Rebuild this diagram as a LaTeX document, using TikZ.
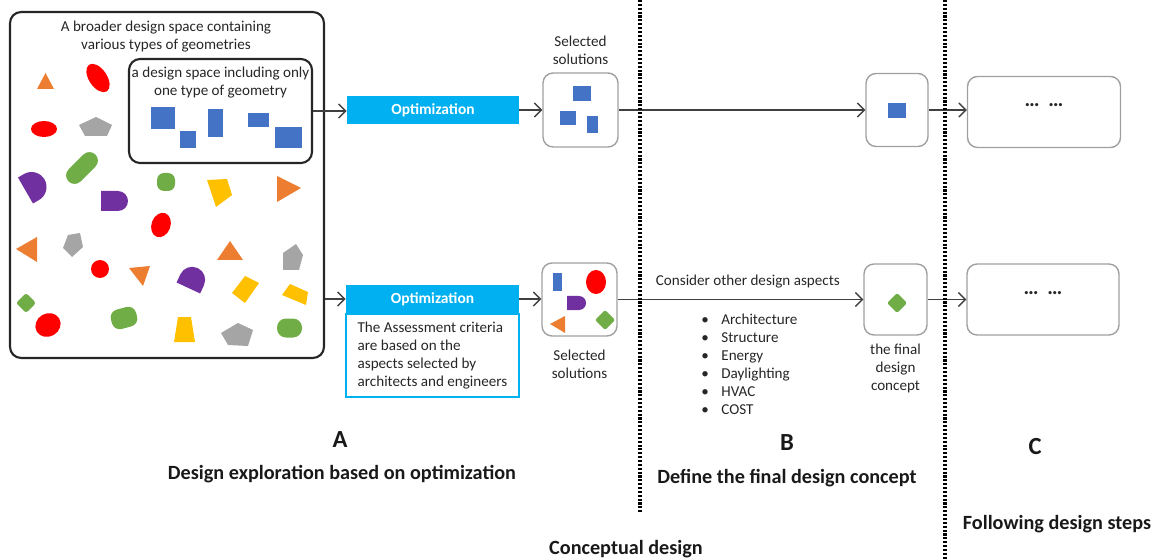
\documentclass[tikz,border=0pt]{standalone}
\usepackage{fontspec}
\setmainfont{Carlito}
\usetikzlibrary{positioning,arrows.meta}

\definecolor{optcyan}{HTML}{00B0F0}
\definecolor{geoblue}{HTML}{4472C4}
\definecolor{geored}{HTML}{FF0000}
\definecolor{geoorange}{HTML}{ED7D31}
\definecolor{geogray}{HTML}{A5A5A5}
\definecolor{geopurple}{HTML}{7030A0}
\definecolor{geogreen}{HTML}{70AD47}
\definecolor{geoyellow}{HTML}{FFC000}
\definecolor{linegray}{HTML}{404040}
\definecolor{boxgray}{HTML}{A0A0A0}

\begin{document}
\begin{tikzpicture}[x=0.02cm,y=-0.02cm,
        txt/.style={font=\fontsize{8.6}{10.3}\selectfont,inner sep=0pt,align=center,text=black!85},
        lbl/.style={font=\fontsize{11.5}{13}\selectfont\bfseries,inner sep=0pt,text=black!90},
        part/.style={font=\fontsize{14}{16}\selectfont\bfseries,inner sep=0pt,text=black!90},
        space/.style={draw=black!85,line width=1.2pt,rounded corners=2.2mm},
        optbox/.style={fill=optcyan,text=white,font=\fontsize{8.8}{10}\selectfont\bfseries,
            minimum width=3.44cm,minimum height=0.56cm,inner sep=0pt},
        solbox/.style={draw=boxgray,line width=0.8pt,rounded corners=2mm,fill=white,
            minimum width=1.5cm,minimum height=1.48cm},
        nextbox/.style={solbox,minimum width=3.06cm,minimum height=1.42cm,
            font=\fontsize{12}{13}\selectfont\bfseries,text=black!85,text height=1pt,text depth=7pt},
        flow/.style={draw=linegray,line width=0.8pt,-{Straight Barb[length=4pt,width=8pt]}},
        sep/.style={line width=2pt,dash pattern=on 1.2pt off 1pt}]

    \useasboundingbox (0,0) rectangle (1155,560);

    % design spaces
    \node[space,minimum width=6.28cm,minimum height=6.92cm] (broad) at (167,185) {};
    \node[txt] (broadtitle) at (166,37) {A broader design space containing\\various types of geometries};
    \node[space,minimum width=3.66cm,minimum height=2.08cm] (narrow) at (220.5,111) {};
    \node[txt] (narrowtitle) at (220.5,83) {a design space including only\\one type of geometry};

    \fill[geoblue] (151,107) rectangle (175,129);
    \fill[geoblue] (180,131) rectangle (196,148);
    \fill[geoblue] (208,109) rectangle (223,137);
    \fill[geoblue] (248,113) rectangle (269,127);
    \fill[geoblue] (275,127) rectangle (302,148);

    % triangles
    \fill[geoorange] (37,89) -- (54,89) -- (45.5,73) -- cycle;
    \fill[geoorange] (277,176) -- (301,188) -- (277,202) -- cycle;
    \fill[geoorange] (16,249) -- (37,237) -- (37,262) -- cycle;
    \fill[geoorange] (217,260) -- (243,260) -- (230,241) -- cycle;
    \fill[geoorange] (129,268) -- (150,266) -- (143,286) -- cycle;
    % ellipses
    \fill[geored,rotate around={-56:(98,78)}] (98,78) ellipse [x radius=16, y radius=9];
    \fill[geored] (44,129) ellipse [x radius=13, y radius=8];
    \fill[geored,rotate around={-20:(161,225)}] (161,225) ellipse [x radius=9.5, y radius=12.5];
    \fill[geored] (100,269) circle [radius=9];
    \fill[geored,rotate around={30:(48,325)}] (48,325) ellipse [x radius=13, y radius=11.5];
    % pentagons
    \fill[geogray] (96,117) -- (112,125) -- (107,136) -- (85,136) -- (79,125) -- cycle;
    \fill[geogray] (63,248) -- (68,235) -- (80,233) -- (83,247) -- (72,257) -- cycle;
    \fill[geogray] (296,244) -- (303,255) -- (299,270) -- (283,270) -- (283,253) -- cycle;
    \fill[geogray] (221,333) -- (238,323) -- (253,330) -- (248,346) -- (228,345) -- cycle;
    % half rounds
    \fill[geopurple,rotate around={30:(35,185)}] (24,170) -- (31,170)
        arc [start angle=-90, end angle=90, radius=15] -- (24,200) -- cycle;
    \fill[geopurple] (101,191) -- (118,191) arc [start angle=-90, end angle=90, radius=10] -- (101,211) -- cycle;
    \fill[geopurple,rotate around={65:(193,278)}] (182,265) -- (191,265)
        arc [start angle=-90, end angle=90, radius=13] -- (182,291) -- cycle;
    % rounded ones
    \fill[geogreen,rotate around={45:(82,168)},rounded corners=1.7mm] (63,159.5) rectangle (101,176.5);
    \fill[geogreen,rounded corners=1.4mm] (157,173) rectangle (175,191);
    \fill[geogreen,rounded corners=0.5mm] (26,293) -- (36,303) -- (26,313) -- (16,303) -- cycle;
    \fill[geogreen,rotate around={15:(124,318)},rounded corners=1.6mm] (111,308) rectangle (137,328);
    \fill[geogreen,rounded corners=1.8mm] (277,318.5) rectangle (302,337.5);
    % quads
    \fill[geoyellow] (207,180) -- (227,179) -- (232,195) -- (216,207) -- cycle;
    \fill[geoyellow] (245,276) -- (259,283) -- (245,303) -- (232,293) -- cycle;
    \fill[geoyellow] (290,284) -- (308,292) -- (306,305) -- (282,295) -- cycle;
    \fill[geoyellow] (178,317) -- (191,317) -- (195,342) -- (174,342) -- cycle;

    % top row
    \node[optbox] (opt1) at (433,110) {Optimization};
    \node[solbox] (sel1) at (580.5,110) {};
    \node[txt,above=1.4mm of sel1] (sel1lbl) {Selected\\solutions};
    \fill[geoblue] (573,86) rectangle (591,101);
    \fill[geoblue] (560,111) rectangle (576,125);
    \fill[geoblue] (587,116) rectangle (598,133);
    \node[solbox,minimum width=1.24cm,minimum height=1.46cm] (fin1) at (897,110) {};
    \fill[geoblue] (888,103) rectangle (906,118);
    \node[nextbox] (next1) at (1044,112) {…\hspace{5pt}…};

    % bottom row
    \node[optbox,minimum width=3.46cm] (opt2) at (432.5,299) {Optimization};
    \node[txt,draw=optcyan,line width=0.8pt,align=left,minimum width=3.46cm,
        minimum height=1.66cm,below=0pt of opt2] (criteria)
        {The Assessment criteria\\are based on the\\aspects selected by\\architects and engineers};
    \node[solbox,minimum height=1.46cm] (sel2) at (579.5,299.5) {};
    \node[txt,below=2.5mm of sel2] (sel2lbl) {Selected\\solutions};
    \fill[geoblue] (553,273) rectangle (562,291);
    \fill[geored] (596,282) ellipse [x radius=10, y radius=12];
    \fill[geopurple] (567,296) -- (579,296) arc [start angle=-90, end angle=90, radius=7] -- (567,310) -- cycle;
    \fill[geoorange] (550,324) -- (565,316) -- (565,333) -- cycle;
    \fill[geogreen,rounded corners=0.4mm] (605,310) -- (615,320) -- (605,330) -- (595,320) -- cycle;
    \node[solbox,minimum width=1.26cm,minimum height=1.42cm] (fin2) at (895.5,299.5) {};
    \fill[geogreen,rounded corners=0.4mm] (897,293) -- (907,303) -- (897,313) -- (887,303) -- cycle;
    \node[txt,below=1.6mm of fin2] (fin2lbl) {the final\\design\\concept};
    \node[nextbox,minimum width=3.04cm] (next2) at (1043,299.5) {…\hspace{5pt}…};
    \node[txt,anchor=north west] (aspects) at (701,311) {\begin{tabular}{@{}l@{\hspace{2.5mm}}l@{}}
        \textbullet & Architecture\\
        \textbullet & Structure\\
        \textbullet & Energy\\
        \textbullet & Daylighting\\
        \textbullet & HVAC\\
        \textbullet & COST
        \end{tabular}};

    % connectors
    \draw[flow] (narrow.east) -- (narrow.east -| opt1.west);
    \draw[flow] (opt1.east) -- (sel1.west);
    \draw[flow] (sel1.east) -- (fin1.west);
    \draw[flow] (fin1.east) -- (fin1.east -| next1.west);
    \draw[flow] (broad.east |- opt2.west) -- (opt2.west);
    \draw[flow] (opt2.east) -- (opt2.east -| sel2.west);
    \draw[flow] (sel2.east) -- (fin2.west)
        node[txt,above=6pt,pos=0.53] (consider) {Consider other design aspects};
    \draw[flow] (fin2.east) -- (fin2.east -| next2.west);

    % stages
    \draw[sep] (640,0) -- (640,512);
    \draw[sep] (945,0) -- (945,560);
    \node[part] (partA) at (340,440) {A};
    \node[lbl] (labelA) at (342,474) {Design exploration based on optimization};
    \node[part] (partB) at (787,443) {B};
    \node[lbl] (labelB) at (787,478) {Define the final design concept};
    \node[part] (partC) at (1035,447) {C};
    \node[lbl] (labelC) at (1057,524) {Following design steps};
    \node[lbl] (labelconcept) at (626,549) {Conceptual design};
\end{tikzpicture}
\end{document}
